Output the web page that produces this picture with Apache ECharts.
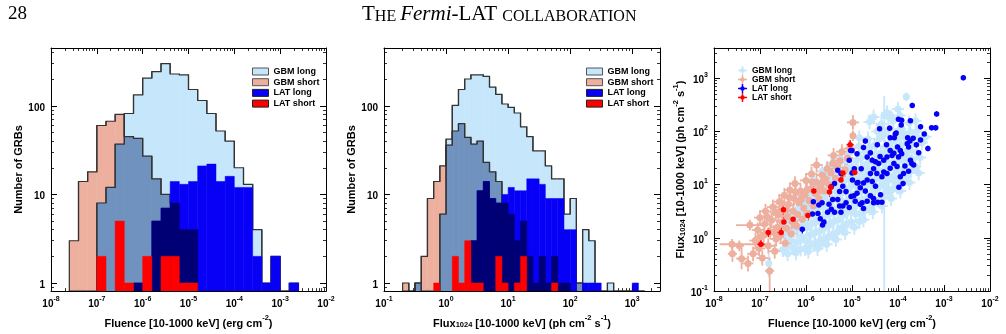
<!DOCTYPE html>
<html>
<head>
<meta charset="utf-8">
<script src="https://cdn.jsdelivr.net/npm/echarts@6/dist/echarts.min.js"></script>
<style>
html, body { margin: 0; padding: 0; background: #fff; }
#chart { width: 1006px; height: 334px; }
</style>
</head>
<body>
<div id="chart"></div>
<script>
// fluence histogram: 0.2 dex bins, first bin edge at 10^-7.6
var fluEdge0 = -7.6, fluStep = 0.2;
var fluGbmLong  = [0, 0, 0, 8, 12, 37, 82, 133, 206, 244, 300, 229, 224, 153, 115, 82, 52, 40, 20, 13, 4, 1, 2, 0, 1];
var fluGbmShort = [3, 14, 18, 60, 67, 80, 45, 43, 27, 15, 10, 8, 4, 4, 0, 0, 0, 0, 0, 0, 0, 0, 0, 0, 0];
var fluLatLong  = [0, 0, 0, 0, 0, 0, 0, 1, 1, 5, 7, 14, 13, 14, 21, 22, 14, 16, 12, 12, 2, 1, 2, 0, 1];
var fluLatShort = [0, 0, 0, 2, 0, 5, 1, 0, 2, 0, 2, 2, 1, 1, 0, 0, 0, 0, 0, 0, 0, 0, 0, 0, 0];

// peak flux histogram: 0.1 dex bins, first bin edge at 10^-0.7
var fxEdge0 = -0.7, fxStep = 0.1;
var fxGbmLong  = [0, 0, 1, 0, 0, 0, 6, 42, 101, 153, 201, 224, 224, 215, 163, 135, 105, 96, 83, 58, 45, 31, 31, 21, 15, 15, 6, 9, 1, 4, 3, 0, 0, 1, 0, 0, 0, 0, 0];
var fxGbmShort = [1, 0, 1, 2, 9, 14, 21, 36, 52, 63, 44, 37, 40, 23, 18, 14, 8, 6, 3, 5, 2, 1, 2, 1, 2, 1, 1, 0, 1, 0, 0, 0, 0, 0, 0, 0, 0, 0, 0];
var fxLatLong  = [0, 0, 0, 0, 0, 0, 0, 0, 0, 0, 0, 3, 11, 14, 9, 8, 10, 12, 11, 11, 15, 15, 13, 9, 9, 9, 4, 4, 0, 1, 1, 1, 0, 0, 0, 0, 0, 1, 0];
var fxLatShort = [0, 0, 0, 0, 0, 1, 0, 0, 2, 1, 3, 1, 1, 0, 0, 2, 1, 0, 1, 2, 0, 0, 0, 0, 1, 0, 0, 0, 0, 0, 0, 0, 0, 0, 0, 0, 0, 0, 0];

// scatter: [log10 fluence, log10 flux] (optional: x err low, x err high, y err low, y err high, in dex)
var scGbmLong = [
  [-6.81, -0.48, 0.05, 0.05, 0.25, 0.2],
  [-6.5, -0.22], [-6.48, 0.06], [-6.45, 0.28],
  [-6.4, -0.3], [-6.37, -0.04], [-6.41, 0.19], [-6.35, 0.42],
  [-6.3, -0.18], [-6.27, 0.11], [-6.31, 0.34],
  [-6.22, -0.28], [-6.2, -0.08], [-6.18, 0.16], [-6.23, 0.39], [-6.17, 0.56],
  [-6.12, -0.21], [-6.1, 0.02], [-6.08, 0.24], [-6.13, 0.46], [-6.06, 0.61],
  [-6.02, -0.2], [-6.0, -0.05], [-5.98, 0.19], [-6.03, 0.36], [-5.97, 0.54], [-6.01, 0.7],
  [-5.92, -0.14], [-5.9, 0.06], [-5.88, 0.27], [-5.93, 0.44], [-5.87, 0.63], [-5.91, 0.8],
  [-5.82, -0.11], [-5.8, 0.1], [-5.78, 0.31], [-5.83, 0.49], [-5.77, 0.71], [-5.81, 0.9],
  [-5.72, -0.07], [-5.7, 0.13], [-5.68, 0.34], [-5.73, 0.56], [-5.67, 0.74], [-5.71, 0.95], [-5.67, -0.09],
  [-5.62, -0.04], [-5.6, 0.19], [-5.58, 0.41], [-5.63, 0.6], [-5.57, 0.81], [-5.61, 1.0],
  [-5.52, 0.01], [-5.5, 0.24], [-5.48, 0.46], [-5.53, 0.64], [-5.47, 0.86], [-5.51, 1.04], [-5.49, 1.2],
  [-5.42, 0.07], [-5.4, 0.31], [-5.38, 0.49], [-5.43, 0.71], [-5.37, 0.92], [-5.41, 1.1],
  [-5.32, 0.11], [-5.3, 0.34], [-5.28, 0.56], [-5.33, 0.77], [-5.27, 1.0], [-5.31, 1.2],
  [-5.22, 0.19], [-5.2, 0.43], [-5.18, 0.61], [-5.23, 0.84], [-5.17, 1.06], [-5.21, 1.25],
  [-5.12, 0.26], [-5.1, 0.49], [-5.08, 0.71], [-5.13, 0.9], [-5.07, 1.1], [-5.11, 1.31],
  [-5.02, 0.3], [-5.0, 0.56], [-4.98, 0.74], [-5.03, 0.96], [-4.97, 1.15], [-5.01, 1.34],
  [-4.92, 0.45], [-4.9, 0.64], [-4.88, 0.86], [-4.93, 1.04], [-4.87, 1.26], [-4.91, 1.45], [-4.84, 0.31],
  [-4.82, 0.46], [-4.8, 0.71], [-4.78, 0.89], [-4.83, 1.1], [-4.77, 1.31], [-4.81, 1.5],
  [-4.72, 0.51], [-4.7, 0.74], [-4.68, 0.99], [-4.73, 1.19], [-4.67, 1.4], [-4.71, 1.61],
  [-4.62, 0.56], [-4.6, 0.81], [-4.58, 1.04], [-4.63, 1.26], [-4.57, 1.44], [-4.61, 1.7],
  [-4.52, 0.66], [-4.5, 0.89], [-4.48, 1.11], [-4.53, 1.31], [-4.47, 1.56], [-4.51, 1.74], [-4.53, 2.27],
  [-4.42, 0.71], [-4.4, 0.96], [-4.38, 1.14], [-4.43, 1.41], [-4.37, 1.6], [-4.41, 1.86],
  [-4.32, 0.76], [-4.3, 1.01], [-4.28, 1.26], [-4.33, 1.44], [-4.27, 1.71], [-4.31, 1.94],
  [-4.3, 2.3, 0.08, 0.08, 3.5, 0.37], [-4.24, 2.35],
  [-4.22, 0.86], [-4.2, 1.09], [-4.18, 1.31], [-4.23, 1.56], [-4.17, 1.79], [-4.21, 2.04],
  [-4.12, 0.91], [-4.1, 1.16], [-4.08, 1.39], [-4.13, 1.61], [-4.07, 1.84], [-4.1, 2.2],
  [-4.02, 0.96], [-4.0, 1.21], [-3.98, 1.44], [-4.03, 1.69], [-3.97, 1.91],
  [-3.92, 1.06], [-3.9, 1.29], [-3.88, 1.51], [-3.93, 1.74], [-3.87, 1.96], [-3.95, 2.05],
  [-3.82, 1.16], [-3.8, 1.41], [-3.78, 1.64], [-3.83, 1.86], [-3.82, 2.65, 0.06, 0.06, 0.08, 0.08],
  [-3.72, 1.26], [-3.7, 1.49], [-3.68, 1.76], [-3.73, 1.99],
  [-3.62, 1.34], [-3.6, 1.61], [-3.58, 1.89], [-3.6, 2.0],
  [-3.52, 1.51], [-3.48, 1.79], [-3.4, 1.9],
  [-5.95, -0.25], [-5.75, -0.2], [-5.55, -0.12], [-5.35, -0.03], [-5.15, 0.1], [-4.95, 0.2],
  [-4.75, 0.34], [-4.55, 0.49], [-4.35, 0.6], [-4.15, 0.74], [-3.95, 0.88], [-3.75, 1.04], [-3.55, 1.22],
  [-5.85, 1.1], [-5.65, 1.25], [-5.45, 1.38], [-5.25, 1.48], [-5.05, 1.6], [-4.85, 1.72], [-4.65, 1.86],
  [-4.45, 2.0], [-4.36, 2.14], [-4.15, 2.26], [-3.96, 2.3], [-3.76, 2.16], [-3.62, 2.2], [-4.62, 2.18],
  [-4.0, 2.42], [-4.84, 1.88], [-5.15, 1.45], [-4.45, 1.3], [-4.25, 1.45], [-4.05, 1.3], [-3.85, 1.55],
  [-4.65, 1.1], [-4.85, 0.95], [-5.25, 0.7], [-5.45, 0.55], [-4.25, 0.95], [-4.05, 1.05]
];
var scGbmShort = [
  [-7.61, -0.12, 0.27, 0.82, 0.1, 0.1], [-7.6, -0.3, 0.1, 0.1, 0.15, 0.15], [-7.45, -0.15, 0.1, 0.1, 0.1, 0.1],
  [-7.4, -0.39, 0.12, 0.12, 0.2, 0.2], [-7.26, -0.48, 0.12, 0.12, 0.15, 0.15], [-7.22, 0.24, 0.3, 0.4, 0.1, 0.1],
  [-7.15, -0.3], [-7.1, -0.05], [-7.05, 0.15], [-7.0, 0.38], [-7.02, -0.2],
  [-6.95, -0.38], [-6.92, 0.05], [-6.9, 0.26], [-6.88, 0.5],
  [-6.79, -0.62, 0.1, 0.1, 0.5, 0.25],
  [-6.82, -0.15], [-6.78, 0.12], [-6.75, 0.33], [-6.72, 0.58],
  [-6.68, -0.25], [-6.65, -0.02], [-6.62, 0.2], [-6.6, 0.43], [-6.58, 0.68],
  [-6.55, 0.05], [-6.52, 0.3], [-6.5, 0.52], [-6.47, 0.8],
  [-6.45, -0.1], [-6.42, 0.18], [-6.4, 0.4], [-6.38, 0.63], [-6.35, 0.9],
  [-6.32, 0.08], [-6.3, 0.3], [-6.28, 0.5], [-6.26, 0.74], [-6.24, 1.02],
  [-6.2, 0.22], [-6.18, 0.44], [-6.15, 0.66], [-6.12, 0.88],
  [-6.08, 0.35], [-6.05, 0.56], [-6.02, 0.8], [-6.0, 1.08],
  [-5.96, 0.46], [-5.93, 0.7], [-5.9, 0.92], [-5.88, 1.2],
  [-5.84, 0.6], [-5.8, 0.84], [-5.77, 1.04], [-5.77, 1.37],
  [-5.72, 0.74], [-5.68, 0.97], [-5.65, 1.18],
  [-5.6, 0.88], [-5.57, 1.1], [-5.54, 1.3],
  [-5.5, 1.0], [-5.46, 1.22], [-5.4, 1.55], [-5.42, 1.4],
  [-5.36, 1.12], [-5.32, 1.32], [-5.26, 1.45], [-5.22, 1.62],
  [-5.15, 1.28], [-5.1, 1.5], [-5.05, 1.68],
  [-4.98, 2.17], [-4.98, 1.92, 0.06, 0.06, 0.1, 0.1],
  [-6.98, 0.02], [-6.85, 0.4], [-6.7, 0.1], [-6.66, 0.48], [-6.53, 0.65], [-6.44, 0.52], [-6.36, 0.76],
  [-6.22, 0.85], [-6.1, 0.72], [-5.98, 0.9], [-5.86, 1.05], [-5.74, 0.9], [-5.62, 1.05]
];
var scLatLong = [
  [-2.58, 3.01], [-3.69, 2.49], [-3.16, 2.33], [-3.27, 2.07], [-3.18, 2.07], [-3.92, 2.21], [-4.40, 2.05],
  [-3.51, 2.09], [-3.51, 1.84], [-4.17, 1.88], [-4.08, 1.88], [-3.79, 1.88], [-3.74, 1.82], [-3.67, 1.87],
  [-4.04, 1.97], [-3.77, 1.71], [-3.95, 1.64], [-3.92, 1.58], [-3.99, 1.52], [-4.17, 1.64], [-4.13, 1.55],
  [-4.24, 1.52], [-4.31, 1.46], [-4.42, 1.40], [-4.49, 1.43], [-4.56, 1.46], [-4.67, 1.52], [-4.75, 1.70],
  [-4.71, 1.82], [-4.89, 1.58], [-5.0, 1.64], [-4.09, 1.40], [-4.02, 1.34], [-3.73, 1.46], [-3.66, 1.37],
  [-3.88, 1.21], [-3.95, 1.15], [-3.89, 1.02], [-4.31, 1.24], [-4.24, 1.21], [-4.35, 1.15], [-4.46, 1.21],
  [-4.53, 1.30], [-4.60, 1.21], [-4.67, 1.09], [-4.75, 1.03], [-4.89, 1.03], [-4.82, 0.94], [-4.71, 0.88],
  [-4.60, 0.79], [-4.67, 0.69], [-4.78, 0.66], [-4.53, 0.66], [-4.44, 0.67], [-4.35, 0.67], [-4.38, 0.81],
  [-4.82, 0.63], [-4.93, 0.69], [-4.89, 0.84], [-4.96, 0.79], [-4.49, 0.97], [-4.56, 1.06], [-4.17, 1.31],
  [-3.77, 1.25], [-3.70, 1.40],
  [-6.08, 0.16, 0.05, 0.05, 0.1, 0.1], [-5.84, 0.68], [-5.86, 0.45], [-5.72, 0.62], [-5.65, 0.66], [-5.74, 0.46],
  [-5.69, 0.36], [-5.64, 0.24], [-5.61, 0.30], [-5.53, 0.48], [-5.50, 0.63], [-5.42, 0.72], [-5.45, 0.54],
  [-5.38, 0.48], [-5.31, 0.72], [-5.27, 0.60], [-5.24, 0.48], [-5.20, 0.60], [-5.13, 0.66], [-5.06, 0.57],
  [-5.02, 0.78], [-5.13, 0.87], [-5.27, 0.87], [-5.31, 1.27], [-5.03, 1.64], [-5.45, 0.96], [-5.38, 1.02],
  [-5.20, 0.97], [-5.24, 1.21], [-5.06, 1.46], [-4.99, 1.09],
  [-5.0, 1.22], [-4.87, 1.04], [-4.75, 0.55], [-4.53, 0.74], [-4.39, 1.53], [-4.09, 1.59], [-4.06, 1.95],
  [-4.01, 1.71], [-3.80, 1.77], [-3.73, 2.2], [-3.99, 2.23], [-4.18, 2.06], [-3.93, 2.12],
  [-3.43, 1.95], [-3.35, 1.68], [-3.55, 1.6], [-3.6, 1.75], [-4.25, 1.75], [-4.45, 1.75], [-4.6, 1.6],
  [-4.8, 1.3], [-4.95, 1.3], [-3.85, 1.35], [-3.98, 0.95]
];
var scLatShort = [
  [-6.98, -0.12], [-6.82, 0.10], [-6.54, 0.10], [-6.48, 0.30], [-6.49, 0.53], [-6.28, 0.35], [-5.96, 0.42],
  [-5.83, 0.88], [-5.49, 0.86], [-5.46, 0.95], [-5.24, 1.09], [-5.20, 1.22], [-5.04, 1.75], [-4.94, 1.23]
];

var FONT = '"Liberation Sans", Arial, Helvetica, sans-serif';
var SERIF = '"Liberation Serif", "DejaVu Serif", serif';
var HIST_YMIN = 0.81, HIST_YMAX = 450;
var COL = {
    gbmLong: '#c5e6fb',
    gbmShort: '#edb09f',
    gbmOverlap: '#6f92bf',
    latLong: '#0800f6',
    latOverlap: '#000074',
    latShort: '#ff0000',
    outline: '#333333'
};

function histData(edge0, step, counts) {
    var out = [];
    for (var i = 0; i < counts.length; i++) {
        var prev = i > 0 ? counts[i - 1] : 0;
        var next = i < counts.length - 1 ? counts[i + 1] : 0;
        out.push([
            Math.pow(10, edge0 + step * i),
            Math.pow(10, edge0 + step * (i + 1)),
            Math.max(counts[i], HIST_YMIN),
            Math.max(prev, HIST_YMIN),
            Math.max(next, HIST_YMIN),
            counts[i]
        ]);
    }
    return out;
}

function minOf(a, b) {
    return a.map(function (v, i) { return Math.min(v, b[i]); });
}

function fillItem(color) {
    return function (params, api) {
        if (!(api.value(5) > 0)) {
            return;
        }
        var p0 = api.coord([api.value(0), api.value(2)]);
        var p1 = api.coord([api.value(1), HIST_YMIN]);
        return {
            type: 'rect',
            shape: { x: p0[0], y: p0[1], width: p1[0] - p0[0], height: p1[1] - p0[1] },
            style: { fill: color, stroke: color, lineWidth: 0.5 }
        };
    };
}

function outlineItem(params, api) {
    var lo = api.value(0), hi = api.value(1);
    var a = api.coord([lo, api.value(3)]);
    var b = api.coord([lo, api.value(2)]);
    var c = api.coord([hi, api.value(2)]);
    var d = api.coord([hi, api.value(4)]);
    return {
        type: 'polyline',
        shape: { points: [a, b, c, d] },
        style: { stroke: COL.outline, lineWidth: 1.2, fill: null }
    };
}

function histSeries(panel, edge0, step, gl, gs, ll, ls) {
    var idx = panel * 2;
    function fill(name, counts, color) {
        return {
            type: 'custom', name: name, xAxisIndex: idx, yAxisIndex: idx, clip: true, silent: true,
            itemStyle: { color: color }, encode: { x: [0, 1], y: 2 },
            renderItem: fillItem(color), data: histData(edge0, step, counts)
        };
    }
    function outline(name, counts) {
        return {
            type: 'custom', name: name, xAxisIndex: idx, yAxisIndex: idx, clip: true, silent: true,
            encode: { x: [0, 1], y: 2 },
            renderItem: outlineItem, data: histData(edge0, step, counts)
        };
    }
    return [
        fill('GBM long', gl, COL.gbmLong),
        fill('GBM short', gs, COL.gbmShort),
        fill('gbm overlap', minOf(gl, gs), COL.gbmOverlap),
        outline('GBM long', gl),
        outline('GBM short', gs),
        fill('LAT long', ll, COL.latLong),
        fill('lat overlap', minOf(ll, gs), COL.latOverlap),
        fill('LAT short', ls, COL.latShort)
    ];
}

function errData(pts, ex, ey) {
    return pts.map(function (p) {
        var big = p.length > 2;
        var exl = big ? p[2] : ex, exh = big ? p[3] : ex;
        var eyl = big ? p[4] : ey, eyh = big ? p[5] : ey;
        return [
            Math.pow(10, p[0]), Math.pow(10, p[1]),
            Math.pow(10, p[0] - exl), Math.pow(10, p[0] + exh),
            Math.pow(10, p[1] - eyl), Math.pow(10, p[1] + eyh)
        ];
    });
}

function errItem(color, width) {
    return function (params, api) {
        var x = api.value(0), y = api.value(1);
        var h0 = api.coord([api.value(2), y]), h1 = api.coord([api.value(3), y]);
        var v0 = api.coord([x, api.value(4)]), v1 = api.coord([x, api.value(5)]);
        return {
            type: 'group',
            children: [
                { type: 'line', shape: { x1: h0[0], y1: h0[1], x2: h1[0], y2: h1[1] }, style: { stroke: color, lineWidth: width } },
                { type: 'line', shape: { x1: v0[0], y1: v0[1], x2: v1[0], y2: v1[1] }, style: { stroke: color, lineWidth: width } }
            ]
        };
    };
}

function scatterSeries(name, pts, color, ex, ey, size, width) {
    var data = errData(pts, ex, ey);
    return [{
        type: 'custom', name: name, xAxisIndex: 4, yAxisIndex: 4, clip: true, silent: true,
        itemStyle: { color: color }, encode: { x: 0, y: 1 },
        renderItem: errItem(color, width), data: data
    }, {
        type: 'scatter', name: name, xAxisIndex: 4, yAxisIndex: 4, clip: true, silent: true,
        symbol: 'circle', symbolSize: size, itemStyle: { color: color, opacity: 1 },
        data: data.map(function (d) { return [d[0], d[1]]; })
    }];
}

var supRich = {
    b: { fontSize: 10, fontWeight: 'bold', fontFamily: FONT, color: '#000', lineHeight: 14, verticalAlign: 'bottom' },
    s: { fontSize: 7, fontWeight: 'bold', fontFamily: FONT, color: '#000', lineHeight: 14, verticalAlign: 'top' }
};
var nameRich = {
    t: { fontSize: 11, fontWeight: 'bold', fontFamily: FONT, color: '#000', lineHeight: 15, verticalAlign: 'bottom' },
    s: { fontSize: 7.5, fontWeight: 'bold', fontFamily: FONT, color: '#000', lineHeight: 15, verticalAlign: 'top' },
    u: { fontSize: 7.5, fontWeight: 'bold', fontFamily: FONT, color: '#000', lineHeight: 15, verticalAlign: 'bottom' }
};

function isPow10(v) {
    var e = Math.log10(v);
    return Math.abs(e - Math.round(e)) < 1e-6;
}
function expLabel(v) {
    if (!isPow10(v)) return '';
    return '{b|10}{s|' + Math.round(Math.log10(v)) + '}';
}
function countLabel(v) {
    if (!isPow10(v)) return '';
    return '{b|' + Math.round(v) + '}';
}

function logAxis(grid, pos, min, max, fmt, name) {
    return {
        type: 'log', logBase: 10, gridIndex: grid, position: pos, min: min, max: max,
        name: name || '', nameLocation: 'middle',
        nameGap: (pos === 'bottom') ? 16 : 26,
        nameTextStyle: { fontSize: 11, fontWeight: 'bold', fontFamily: FONT, color: '#000', rich: nameRich },
        axisLine: { show: true, onZero: false, lineStyle: { color: '#000', width: 1 } },
        axisTick: { show: true, inside: true, length: 6, lineStyle: { color: '#000', width: 1 } },
        minorTick: { show: true, splitNumber: 9, length: 3, lineStyle: { color: '#000', width: 0.8 } },
        splitLine: { show: false },
        axisLabel: {
            show: !!fmt, formatter: fmt, rich: supRich,
            margin: (pos === 'bottom') ? 4 : 6,
            showMinLabel: true, showMaxLabel: true
        }
    };
}

var fluenceName = '{t|Fluence [10-1000 keV] (erg cm}{s|-2}{t|)}';
var fluxName = '{t|Flux}{u|1024}{t| [10-1000 keV] (ph cm}{s|-2}{t| s}{s|-1}{t|)}';

var legendIcon = 'path://M4.2,0H5.8V4.2H10V5.8H5.8V10H4.2V5.8H0V4.2H4.2Z M5,2.5A2.5,2.5,0,1,1,4.99,2.5Z';

function histLegend(left) {
    return {
        orient: 'vertical', left: left, top: 62, itemWidth: 16, itemHeight: 7, itemGap: 1.7,
        selectedMode: false, icon: 'rect',
        textStyle: { fontSize: 9, fontWeight: 'bold', fontFamily: FONT, color: '#000', lineHeight: 7 },
        data: [
            { name: 'GBM long', itemStyle: { color: COL.gbmLong, borderColor: '#555', borderWidth: 1 } },
            { name: 'GBM short', itemStyle: { color: COL.gbmShort, borderColor: '#555', borderWidth: 1 } },
            { name: 'LAT long', itemStyle: { color: COL.latLong, borderColor: '#222', borderWidth: 1 } },
            { name: 'LAT short', itemStyle: { color: COL.latShort, borderColor: '#222', borderWidth: 1 } }
        ]
    };
}

var chart = echarts.init(document.getElementById('chart'), null, { renderer: 'canvas' });

var series = [].concat(
    histSeries(0, fluEdge0, fluStep, fluGbmLong, fluGbmShort, fluLatLong, fluLatShort),
    histSeries(1, fxEdge0, fxStep, fxGbmLong, fxGbmShort, fxLatLong, fxLatShort),
    scatterSeries('GBM long', scGbmLong, COL.gbmLong, 0.13, 0.14, 7, 1.8),
    scatterSeries('GBM short', scGbmShort, COL.gbmShort, 0.13, 0.14, 7, 1.8),
    scatterSeries('LAT long', scLatLong, COL.latLong, 0.04, 0.05, 5.5, 1.2),
    scatterSeries('LAT short', scLatShort, COL.latShort, 0.08, 0.09, 5.5, 1.3)
);

chart.setOption({
    animation: false,
    backgroundColor: '#fff',
    grid: [
        { left: 51, top: 48, width: 275, height: 251 },
        { left: 384, top: 48, width: 276, height: 251 },
        { left: 714, top: 48, width: 276, height: 251 }
    ],
    xAxis: [
        logAxis(0, 'bottom', 1e-8, 1e-2, expLabel, fluenceName),
        logAxis(0, 'top', 1e-8, 1e-2, null),
        logAxis(1, 'bottom', 0.1, 2800, expLabel, fluxName),
        logAxis(1, 'top', 0.1, 2800, null),
        logAxis(2, 'bottom', 1e-8, 1e-2, expLabel, fluenceName),
        logAxis(2, 'top', 1e-8, 1e-2, null)
    ],
    yAxis: [
        logAxis(0, 'left', HIST_YMIN, HIST_YMAX, countLabel, '{t|Number of GRBs}'),
        logAxis(0, 'right', HIST_YMIN, HIST_YMAX, null),
        logAxis(1, 'left', HIST_YMIN, HIST_YMAX, countLabel, '{t|Number of GRBs}'),
        logAxis(1, 'right', HIST_YMIN, HIST_YMAX, null),
        logAxis(2, 'left', 0.1, 3700, expLabel, fluxName),
        logAxis(2, 'right', 0.1, 3700, null)
    ],
    legend: [
        histLegend(247),
        histLegend(581),
        {
            orient: 'vertical', left: 733, top: 61, itemWidth: 9, itemHeight: 9, itemGap: 0,
            selectedMode: false,
            textStyle: { fontSize: 8.5, fontWeight: 'bold', fontFamily: FONT, color: '#000', lineHeight: 8.7 },
            data: [
                { name: 'GBM long', icon: legendIcon, itemStyle: { color: COL.gbmLong, borderWidth: 0 } },
                { name: 'GBM short', icon: legendIcon, itemStyle: { color: COL.gbmShort, borderWidth: 0 } },
                { name: 'LAT long', icon: legendIcon, itemStyle: { color: COL.latLong, borderWidth: 0 } },
                { name: 'LAT short', icon: legendIcon, itemStyle: { color: COL.latShort, borderWidth: 0 } }
            ]
        }
    ],
    graphic: [
        { type: 'text', left: 8, top: 5, style: { text: '28', fontSize: 19, fontFamily: SERIF, fill: '#000' } },
        {
            type: 'text', left: 362, top: 4,
            style: {
                text: '{a|T}{b|HE }{i|Fermi}{a|-LAT }{b|COLLABORATION}',
                rich: {
                    a: { fontSize: 21, fontFamily: SERIF, fill: '#000', lineHeight: 23, verticalAlign: 'bottom' },
                    b: { fontSize: 16, fontFamily: SERIF, fill: '#000', lineHeight: 23, verticalAlign: 'bottom' },
                    i: { fontSize: 21, fontFamily: SERIF, fontStyle: 'italic', fill: '#000', lineHeight: 23, verticalAlign: 'bottom' }
                }
            }
        }
    ],
    series: series
});
</script>
</body>
</html>
